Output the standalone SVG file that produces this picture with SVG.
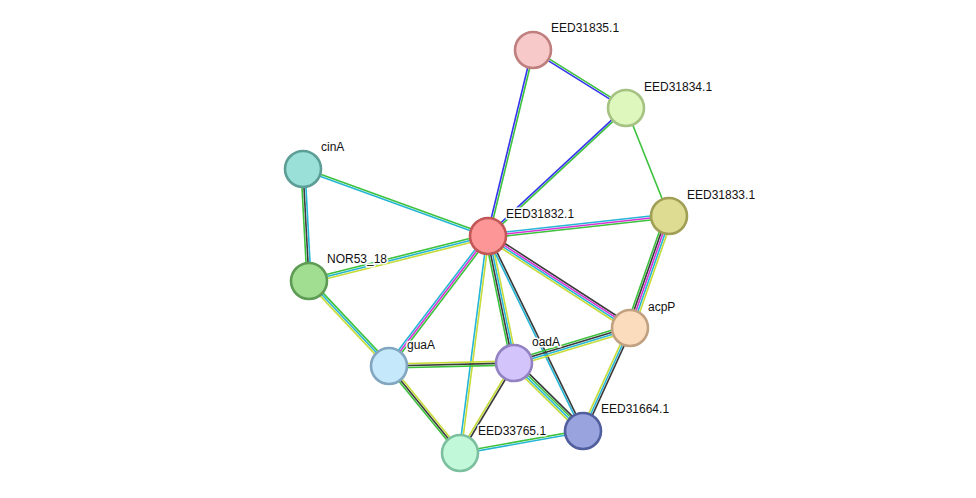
<svg xmlns="http://www.w3.org/2000/svg" width="976" height="498" viewBox="0 0 976 498">
<style>
line{stroke-width:1.6;fill:none}
.g{stroke:#3cc23c}.c{stroke:#25b6d6}.b{stroke:#3535ee}.m{stroke:#d633d6}.k{stroke:#3a3a3a}.y{stroke:#c6dc3a}
circle{stroke-width:2.6}
text{font-family:"Liberation Sans",Arial,sans-serif;font-size:12px;fill:#111;stroke:#fff;stroke-width:3px;paint-order:stroke;stroke-linejoin:round}
</style>
<rect width="976" height="498" fill="#fff"/>
<g id="edges">
<line class="g" x1="489" y1="236.2" x2="534" y2="50.2"/><line class="b" x1="487" y1="235.8" x2="532" y2="49.8"/>
<line class="g" x1="488.7" y1="236.7" x2="626.7" y2="108.7"/><line class="b" x1="487.3" y1="235.3" x2="625.3" y2="107.3"/>
<line class="g" x1="533.5" y1="49.1" x2="626.5" y2="107.1"/><line class="b" x1="532.5" y1="50.9" x2="625.5" y2="108.9"/>
<line class="g" x1="626" y1="108" x2="669" y2="216"/>
<line class="g" x1="488.3" y1="235.1" x2="303.3" y2="168.1"/><line class="c" x1="487.7" y1="236.9" x2="302.7" y2="169.9"/>
<line class="g" x1="301" y1="169" x2="307" y2="281"/><line class="k" x1="303" y1="169" x2="309" y2="281"/><line class="c" x1="305" y1="169" x2="311" y2="281"/>
<line class="g" x1="487.5" y1="234" x2="308.5" y2="279"/><line class="c" x1="488" y1="236" x2="309" y2="281"/><line class="y" x1="488.5" y1="238" x2="309.5" y2="283"/>
<line class="c" x1="487.8" y1="234" x2="668.8" y2="214"/><line class="m" x1="488" y1="236" x2="669" y2="216"/><line class="g" x1="488.2" y1="238" x2="669.2" y2="218"/>
<line class="c" x1="486.4" y1="234.8" x2="387.4" y2="364.8"/><line class="m" x1="488" y1="236" x2="389" y2="366"/><line class="g" x1="489.6" y1="237.2" x2="390.6" y2="367.2"/>
<line class="k" x1="489.6" y1="233.5" x2="631.6" y2="325.5"/><line class="m" x1="488.5" y1="235.2" x2="630.5" y2="327.2"/><line class="c" x1="487.5" y1="236.8" x2="629.5" y2="328.8"/><line class="y" x1="486.4" y1="238.5" x2="628.4" y2="330.5"/>
<line class="g" x1="485.1" y1="236.6" x2="511.1" y2="363.6"/><line class="k" x1="487" y1="236.2" x2="513" y2="363.2"/><line class="c" x1="489" y1="235.8" x2="515" y2="362.8"/><line class="y" x1="490.9" y1="235.4" x2="516.9" y2="362.4"/>
<line class="c" x1="487.1" y1="236.4" x2="582.1" y2="431.4"/><line class="k" x1="488.9" y1="235.6" x2="583.9" y2="430.6"/>
<line class="c" x1="487" y1="235.9" x2="459" y2="452.9"/><line class="y" x1="489" y1="236.1" x2="461" y2="453.1"/>
<line class="g" x1="665.2" y1="214.7" x2="626.2" y2="326.7"/><line class="k" x1="667.1" y1="215.3" x2="628.1" y2="327.3"/><line class="m" x1="669" y1="216" x2="630" y2="328"/><line class="c" x1="670.9" y1="216.7" x2="631.9" y2="328.7"/><line class="y" x1="672.8" y1="217.3" x2="633.8" y2="329.3"/>
<line class="g" x1="310.5" y1="279.6" x2="390.5" y2="364.6"/><line class="c" x1="309" y1="281" x2="389" y2="366"/><line class="y" x1="307.5" y1="282.4" x2="387.5" y2="367.4"/>
<line class="y" x1="389" y1="364" x2="514" y2="361"/><line class="k" x1="389" y1="366" x2="514" y2="363"/><line class="g" x1="389" y1="368" x2="514" y2="365"/>
<line class="g" x1="387.5" y1="367.3" x2="458.5" y2="454.3"/><line class="k" x1="389" y1="366" x2="460" y2="453"/><line class="y" x1="390.5" y1="364.7" x2="461.5" y2="451.7"/>
<line class="g" x1="513.1" y1="360.1" x2="629.1" y2="325.1"/><line class="k" x1="513.7" y1="362" x2="629.7" y2="327"/><line class="c" x1="514.3" y1="364" x2="630.3" y2="329"/><line class="y" x1="514.9" y1="365.9" x2="630.9" y2="330.9"/>
<line class="k" x1="516.1" y1="360.9" x2="585.1" y2="428.9"/><line class="g" x1="514.7" y1="362.3" x2="583.7" y2="430.3"/><line class="c" x1="513.3" y1="363.7" x2="582.3" y2="431.7"/><line class="y" x1="511.9" y1="365.1" x2="580.9" y2="433.1"/>
<line class="y" x1="513.1" y1="362.5" x2="459.1" y2="452.5"/><line class="k" x1="514.9" y1="363.5" x2="460.9" y2="453.5"/>
<line class="y" x1="628.2" y1="327.2" x2="581.2" y2="430.2"/><line class="c" x1="630" y1="328" x2="583" y2="431"/><line class="k" x1="631.8" y1="328.8" x2="584.8" y2="431.8"/>
<line class="g" x1="459.8" y1="452" x2="582.8" y2="430"/><line class="c" x1="460.2" y1="454" x2="583.2" y2="432"/>
</g>
<g id="EED31835.1"><circle cx="533" cy="50" r="18" fill="#f7c9c9" stroke="#c07f7f"/><text x="551" y="32">EED31835.1</text></g>
<g id="EED31834.1"><circle cx="626" cy="108" r="18" fill="#ddf7bd" stroke="#a5c283"/><text x="644" y="91">EED31834.1</text></g>
<g id="EED31833.1"><circle cx="669" cy="216" r="18" fill="#dedb93" stroke="#a09f55"/><text x="687" y="199">EED31833.1</text></g>
<g id="cinA"><circle cx="303" cy="169" r="18" fill="#9ae0d8" stroke="#5c9e96"/><text x="321" y="151">cinA</text></g>
<g id="EED31832.1"><circle cx="488" cy="236" r="18" fill="#fd9696" stroke="#c25757"/><text x="506" y="218">EED31832.1</text></g>
<g id="NOR53_18"><circle cx="309" cy="281" r="18" fill="#a1de92" stroke="#5e9b55"/><text x="327" y="263">NOR53_18</text></g>
<g id="acpP"><circle cx="630" cy="328" r="18" fill="#fbdcbd" stroke="#c2a182"/><text x="648" y="311">acpP</text></g>
<g id="guaA"><circle cx="389" cy="366" r="18" fill="#c5e8fb" stroke="#82a6c0"/><text x="407" y="349">guaA</text></g>
<g id="oadA"><circle cx="514" cy="363" r="18" fill="#d3c4fb" stroke="#9282c2"/><text x="532" y="346">oadA</text></g>
<g id="EED31664.1"><circle cx="583" cy="431" r="18" fill="#99a3de" stroke="#525f9f"/><text x="601" y="413">EED31664.1</text></g>
<g id="EED33765.1"><circle cx="460" cy="453" r="18" fill="#c1f8da" stroke="#7dc0a0"/><text x="478" y="435">EED33765.1</text></g>
</svg>
